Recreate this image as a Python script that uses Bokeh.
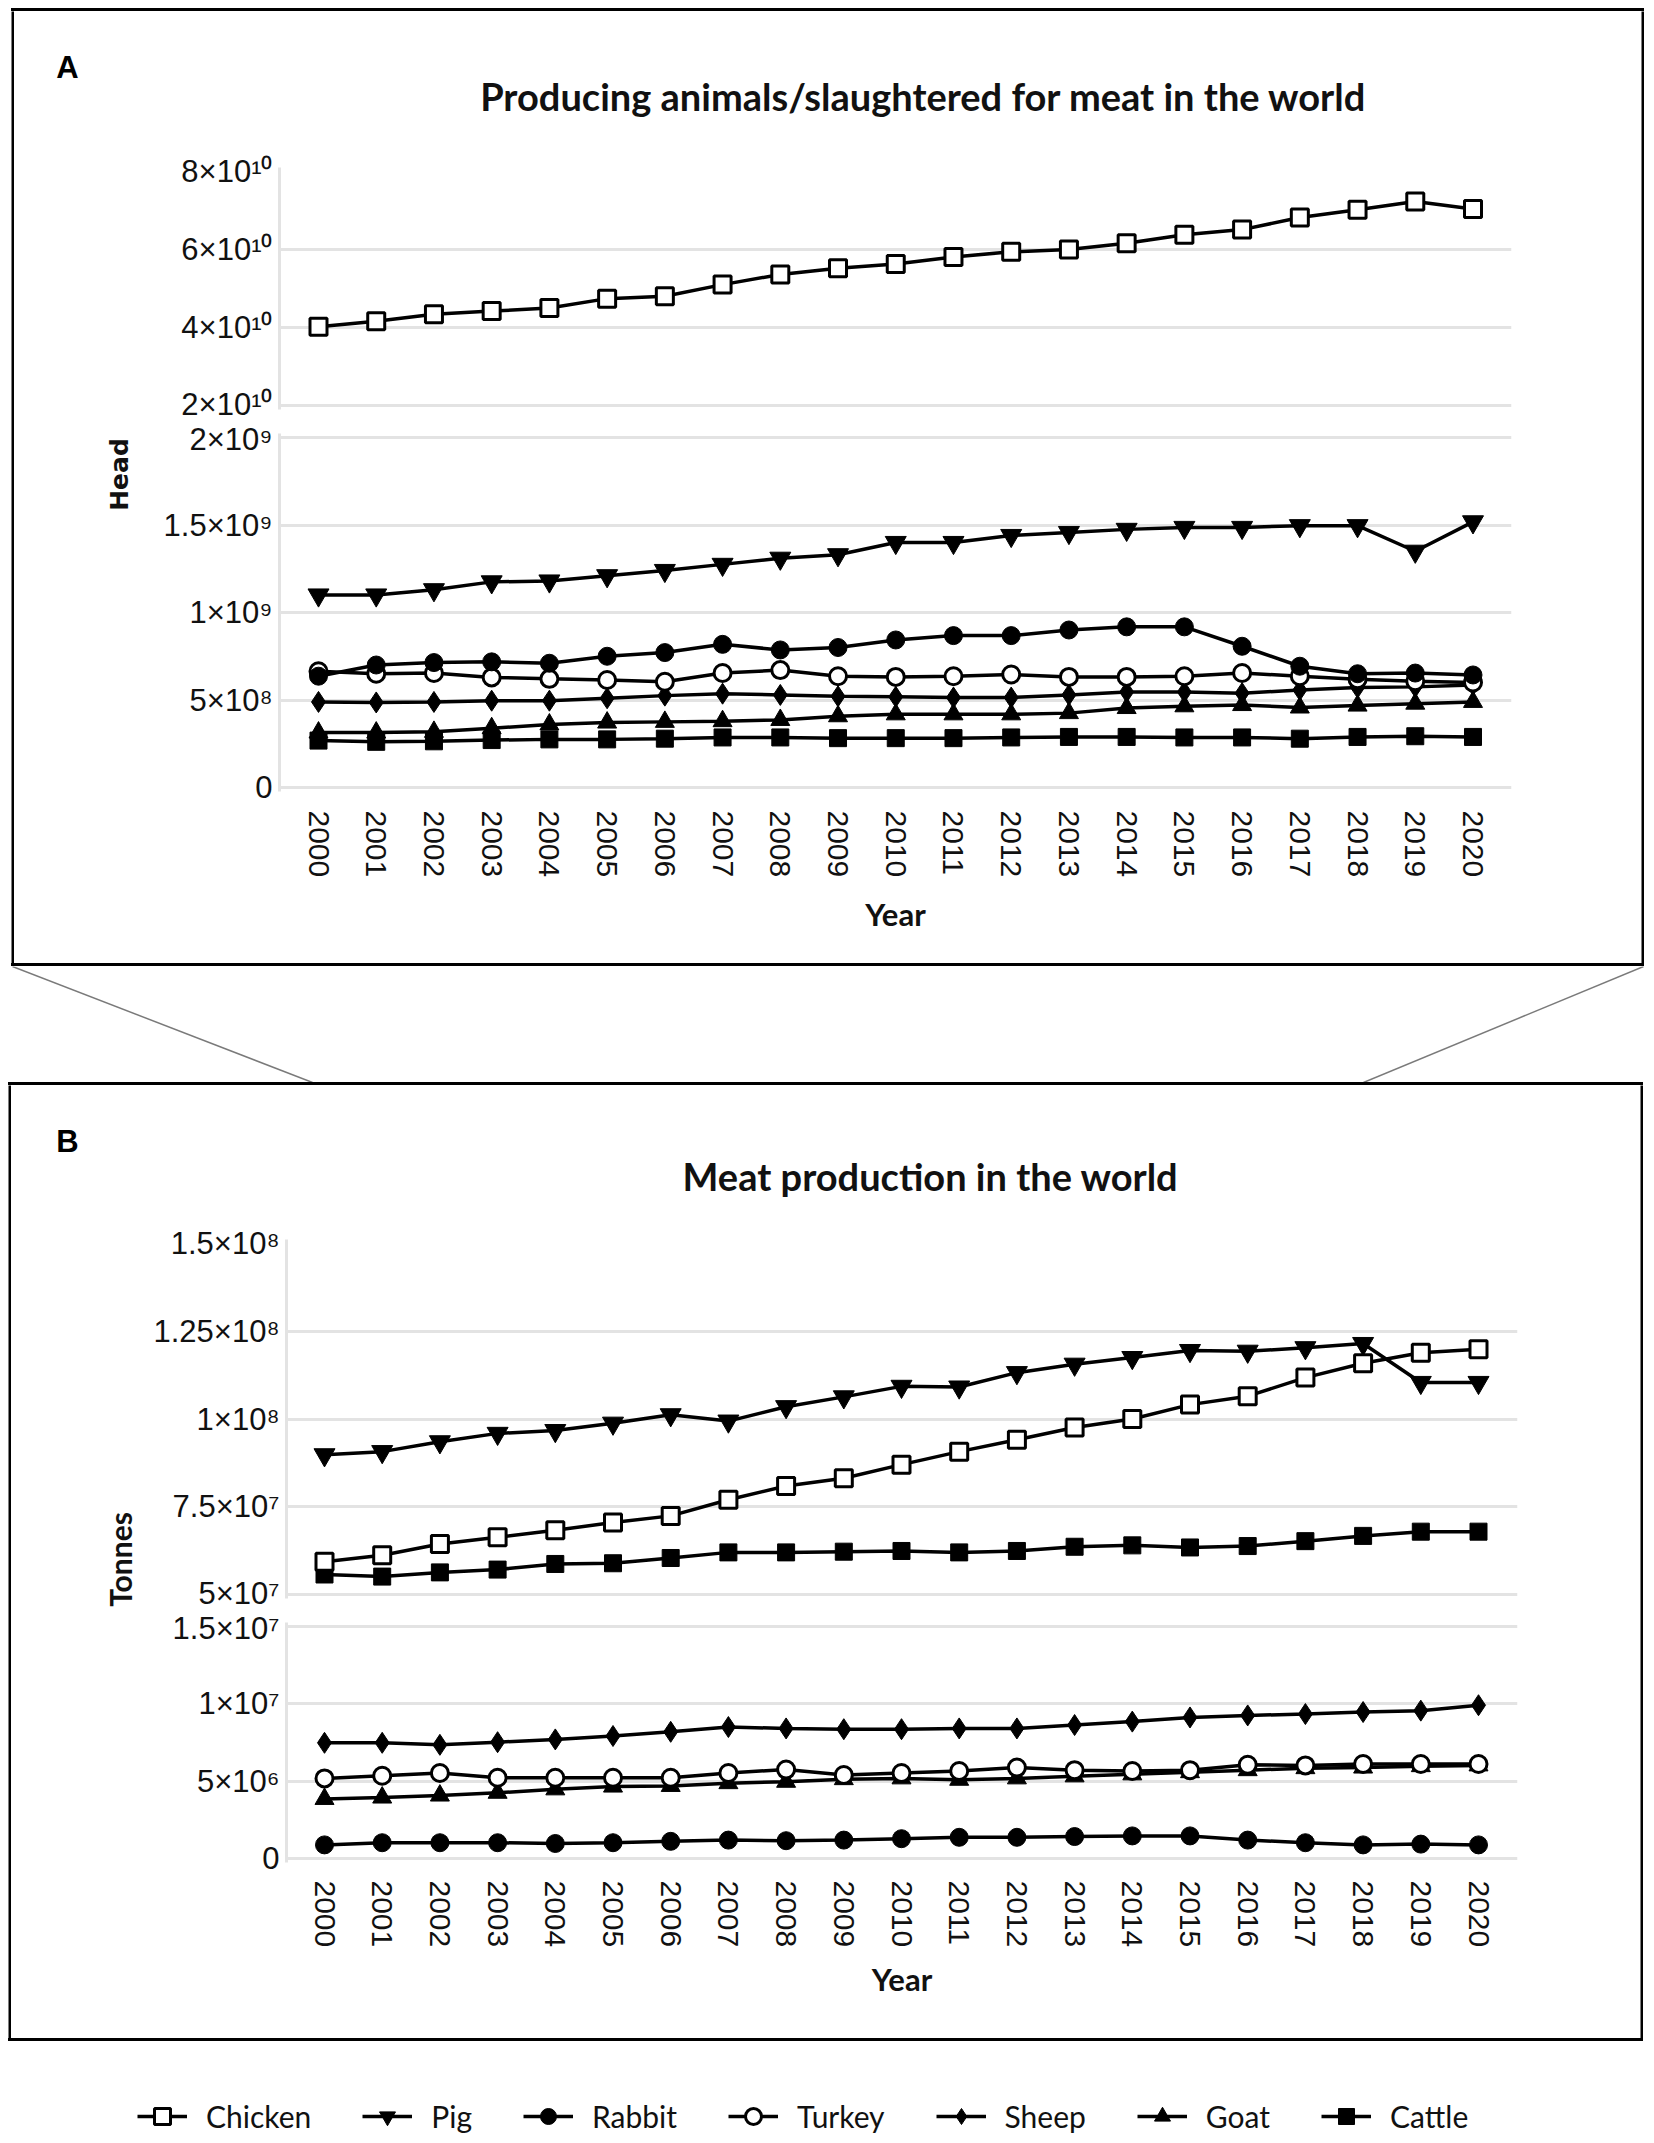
import numpy as np
from bokeh.plotting import figure
from bokeh.layouts import column, row
from bokeh.models import Range1d, FixedTicker, Spacer, Legend, LegendItem
from bokeh.core.properties import value
from bokeh.embed import file_html
from bokeh.resources import INLINE

# ---------------- data ----------------
years = list(range(2000, 2021))
series_names = ["Chicken", "Pig", "Rabbit", "Turkey", "Sheep", "Goat", "Cattle"]

# Panel A: producing animals / slaughtered (Head)
head_chicken = [4.02e10, 4.16e10, 4.34e10, 4.42e10, 4.50e10, 4.74e10, 4.80e10, 5.10e10, 5.36e10, 5.52e10, 5.63e10,
                5.81e10, 5.94e10, 6.00e10, 6.16e10, 6.38e10, 6.51e10, 6.82e10, 7.02e10, 7.23e10, 7.04e10]
head_pig = [1.10e9, 1.10e9, 1.13e9, 1.175e9, 1.18e9, 1.21e9, 1.24e9, 1.275e9, 1.31e9, 1.33e9, 1.40e9,
            1.40e9, 1.44e9, 1.457e9, 1.475e9, 1.486e9, 1.486e9, 1.496e9, 1.496e9, 1.35e9, 1.518e9]
head_rabbit = [6.36e8, 7.0e8, 7.14e8, 7.18e8, 7.1e8, 7.5e8, 7.71e8, 8.18e8, 7.86e8, 8.0e8, 8.43e8,
               8.68e8, 8.68e8, 9.0e8, 9.18e8, 9.18e8, 8.07e8, 6.93e8, 6.5e8, 6.54e8, 6.43e8]
head_turkey = [6.64e8, 6.5e8, 6.54e8, 6.29e8, 6.21e8, 6.14e8, 6.04e8, 6.54e8, 6.71e8, 6.36e8, 6.32e8,
               6.36e8, 6.46e8, 6.32e8, 6.32e8, 6.36e8, 6.54e8, 6.36e8, 6.18e8, 6.07e8, 6.0e8]
head_sheep = [4.89e8, 4.86e8, 4.89e8, 4.96e8, 4.96e8, 5.1e8, 5.25e8, 5.36e8, 5.29e8, 5.21e8, 5.18e8,
              5.14e8, 5.14e8, 5.29e8, 5.46e8, 5.46e8, 5.39e8, 5.57e8, 5.71e8, 5.75e8, 5.86e8]
head_goat = [3.14e8, 3.14e8, 3.18e8, 3.39e8, 3.6e8, 3.71e8, 3.75e8, 3.79e8, 3.86e8, 4.07e8, 4.18e8,
             4.18e8, 4.18e8, 4.25e8, 4.54e8, 4.64e8, 4.71e8, 4.57e8, 4.68e8, 4.79e8, 4.89e8]
head_cattle = [2.68e8, 2.61e8, 2.64e8, 2.71e8, 2.75e8, 2.75e8, 2.79e8, 2.86e8, 2.86e8, 2.82e8, 2.82e8,
               2.82e8, 2.86e8, 2.89e8, 2.89e8, 2.86e8, 2.86e8, 2.79e8, 2.89e8, 2.93e8, 2.89e8]

# Panel B: meat production (Tonnes)
t_chicken = [5.93e7, 6.12e7, 6.44e7, 6.63e7, 6.83e7, 7.05e7, 7.24e7, 7.70e7, 8.09e7, 8.31e7, 8.70e7,
             9.07e7, 9.41e7, 9.76e7, 10.0e7, 10.41e7, 10.65e7, 11.18e7, 11.59e7, 11.89e7, 11.99e7]
t_pig = [8.98e7, 9.07e7, 9.35e7, 9.59e7, 9.67e7, 9.88e7, 10.12e7, 9.94e7, 10.35e7, 10.63e7, 10.93e7,
         10.91e7, 11.32e7, 11.56e7, 11.75e7, 11.95e7, 11.93e7, 12.03e7, 12.15e7, 11.04e7, 11.04e7]
t_rabbit = [0.88e6, 1.02e6, 1.02e6, 1.02e6, 0.97e6, 1.02e6, 1.11e6, 1.19e6, 1.15e6, 1.19e6, 1.28e6,
            1.37e6, 1.37e6, 1.42e6, 1.46e6, 1.46e6, 1.19e6, 1.02e6, 0.88e6, 0.93e6, 0.88e6]
t_turkey = [5.18e6, 5.35e6, 5.53e6, 5.22e6, 5.22e6, 5.22e6, 5.22e6, 5.53e6, 5.75e6, 5.40e6, 5.53e6,
            5.66e6, 5.88e6, 5.71e6, 5.66e6, 5.71e6, 6.06e6, 6.02e6, 6.11e6, 6.11e6, 6.11e6]
t_sheep = [7.48e6, 7.48e6, 7.35e6, 7.52e6, 7.70e6, 7.92e6, 8.19e6, 8.50e6, 8.41e6, 8.36e6, 8.36e6,
           8.41e6, 8.41e6, 8.63e6, 8.85e6, 9.12e6, 9.25e6, 9.34e6, 9.47e6, 9.56e6, 9.91e6]
t_goat = [3.85e6, 3.94e6, 4.07e6, 4.25e6, 4.47e6, 4.65e6, 4.69e6, 4.87e6, 4.96e6, 5.13e6, 5.18e6,
          5.09e6, 5.18e6, 5.31e6, 5.44e6, 5.58e6, 5.71e6, 5.84e6, 5.88e6, 5.97e6, 6.02e6]
t_cattle = [5.57e7, 5.51e7, 5.63e7, 5.71e7, 5.87e7, 5.89e7, 6.04e7, 6.20e7, 6.20e7, 6.22e7, 6.24e7,
            6.20e7, 6.24e7, 6.36e7, 6.40e7, 6.34e7, 6.38e7, 6.52e7, 6.67e7, 6.79e7, 6.79e7]

# Axis ticks (broken axes) and tick labels
a_up_ticks = [2e10, 4e10, 6e10, 8e10]
a_up_labels = ["2×10¹⁰", "4×10¹⁰", "6×10¹⁰", "8×10¹⁰"]
a_low_ticks = [0, 5e8, 1e9, 1.5e9, 2e9]
a_low_labels = ["0", "5×10⁸", "1×10⁹", "1.5×10⁹", "2×10⁹"]
b_up_ticks = [5e7, 7.5e7, 1e8, 1.25e8, 1.5e8]
b_up_labels = ["5×10⁷", "7.5×10⁷", "1×10⁸", "1.25×10⁸", "1.5×10⁸"]
b_low_ticks = [0, 5e6, 1e7, 1.5e7]
b_low_labels = ["0", "5×10⁶", "1×10⁷", "1.5×10⁷"]

# ---------------- styles ----------------
STYLE = {
    "Chicken": dict(marker="square", size=17, fill_color="white", line_width=3),
    "Pig": dict(marker="inverted_triangle", size=21, fill_color="black", line_width=1),
    "Rabbit": dict(marker="circle", size=18, fill_color="black", line_width=1),
    "Turkey": dict(marker="circle", size=17, fill_color="white", line_width=3),
    "Sheep": dict(marker="diamond", size=21, fill_color="black", line_width=1),
    "Goat": dict(marker="triangle", size=19, fill_color="black", line_width=1),
    "Cattle": dict(marker="square", size=17, fill_color="black", line_width=1),
}
LINE_W = 3.5
GRID_COL = "#e3e3e3"
TXT = "#111111"
TICK_FONT = "Liberation Sans"
BORDER = 3


def svgfig(**kw):
    base = dict(toolbar_location=None, output_backend="svg", outline_line_color=None)
    base.update(kw)
    return figure(**base)


def vbar(w, h):
    p = svgfig(width=w, height=h, min_border=0, x_axis_location=None, y_axis_location=None,
               background_fill_color="black", border_fill_color="black",
               x_range=Range1d(0, 1), y_range=Range1d(0, 1))
    p.grid.visible = False
    return p


def hbar(w, h):
    return Spacer(width=w, height=h, styles={"background-color": "black"})


def canvas(x0, x1, y0, y1, fx0=None, fx1=None):
    # a figure spanning page pixels x0..x1, y0..y1 (y downward); frame optionally inset to fx0..fx1
    fx0 = x0 if fx0 is None else fx0
    fx1 = x1 if fx1 is None else fx1
    p = svgfig(width=int(x1 - x0), height=int(y1 - y0), min_border_top=0, min_border_bottom=0,
               min_border_left=int(fx0 - x0), min_border_right=int(x1 - fx1),
               x_axis_location=None, y_axis_location=None,
               x_range=Range1d(fx0, fx1), y_range=Range1d(y1, y0))
    p.grid.visible = False
    return p


def seg(x0, x1, y0, y1, axis_x, right_x, x2000, x2020, px_lo, v_lo, px_hi, v_hi,
        ticks, labels, grid_ticks, data, xaxis=None, pad=4):
    ftop, fbot = px_hi - pad, px_lo + pad
    per_y = (v_hi - v_lo) / (px_lo - px_hi)
    yr = Range1d(v_lo - (fbot - px_lo) * per_y, v_hi + (px_hi - ftop) * per_y)
    per_x = (years[-1] - years[0]) / (x2020 - x2000)
    xr = Range1d(years[0] - (x2000 - axis_x) * per_x, years[-1] + (right_x - x2020) * per_x)
    p = svgfig(width=int(x1 - x0), height=int(y1 - y0), x_range=xr, y_range=yr,
               x_axis_location="below" if xaxis else None, y_axis_location="left",
               min_border_left=int(axis_x - x0), min_border_right=int(x1 - right_x),
               min_border_top=int(ftop - y0), min_border_bottom=int(y1 - fbot),
               background_fill_color="white", border_fill_color="white")
    p.xgrid.visible = False
    p.ygrid.ticker = FixedTicker(ticks=[float(t) for t in grid_ticks])
    p.ygrid.grid_line_color = GRID_COL
    p.ygrid.grid_line_width = 3
    ax = p.yaxis[0]
    ax.ticker = FixedTicker(ticks=[float(t) for t in ticks])
    ax.major_label_overrides = {float(t): l for t, l in zip(ticks, labels)}
    ax.axis_line_color = GRID_COL
    ax.axis_line_width = 3
    ax.major_tick_out = 0
    ax.major_tick_in = 0
    ax.minor_tick_out = 0
    ax.minor_tick_in = 0
    ax.major_label_standoff = 7
    ax.major_label_text_font = TICK_FONT
    ax.major_label_text_font_size = "31px"
    ax.major_label_text_color = TXT
    if xaxis:
        xa = p.xaxis[0]
        xa.ticker = FixedTicker(ticks=years)
        xa.major_label_orientation = "vertical"
        xa.axis_line_color = None
        xa.major_tick_out = 0
        xa.major_tick_in = 0
        xa.minor_tick_out = 0
        xa.minor_tick_in = 0
        xa.major_label_standoff = xaxis["standoff"]
        xa.major_label_text_font = TICK_FONT
        xa.major_label_text_font_size = "30px"
        xa.major_label_text_color = TXT
        xa.axis_label = "Year"
        xa.axis_label_text_font = "Lato"
        xa.axis_label_text_font_style = "bold"
        xa.axis_label_text_font_size = "31px"
        xa.axis_label_text_color = TXT
        xa.axis_label_standoff = xaxis["label_standoff"]
    for name, vals in data:
        st = STYLE[name]
        p.line(years, vals, line_color="black", line_width=LINE_W)
        p.scatter(years, vals, marker=st["marker"], size=st["size"], fill_color=st["fill_color"],
                  line_color="black", line_width=st["line_width"])
    return p


def panel(box, xs, axis_x, right_x, x2000, x2020, y_head, y_mid, up, low, letter, letter_xy,
          ylabel, ylabel_xy, ylabel_font, title, title_xy, xaxis):
    X0, Y0, X1, Y1 = box
    ix0, ix1, iy0, iy1 = X0 + BORDER, X1 - BORDER, Y0 + BORDER, Y1 - BORDER
    side = canvas(ix0, xs, iy0, iy1)
    side.text(x=[letter_xy[0]], y=[letter_xy[1]], text=[letter], text_font=value("Liberation Sans"),
              text_font_style="bold", text_font_size="31px", text_align="center",
              text_baseline="middle", text_color="black")
    side.text(x=[ylabel_xy[0]], y=[ylabel_xy[1]], text=[ylabel], angle=np.pi / 2,
              text_font=value(ylabel_font[0]), text_font_style="bold", text_font_size=ylabel_font[1],
              text_align="center", text_baseline="middle", text_color=TXT)
    head = canvas(xs, ix1, iy0, y_head, axis_x, right_x)
    head.text(x=[title_xy[0]], y=[title_xy[1]], text=[title], text_font=value("Lato"),
              text_font_style="bold", text_font_size="38px", text_align="center",
              text_baseline="middle", text_color=TXT)
    pu = seg(xs, ix1, y_head, y_mid, axis_x, right_x, x2000, x2020, *up)
    pl = seg(xs, ix1, y_mid, iy1, axis_x, right_x, x2000, x2020, *low, xaxis=xaxis)
    mid = row(vbar(BORDER, iy1 - iy0), side, column(head, pu, pl), vbar(BORDER, iy1 - iy0))
    return column(hbar(X1 - X0, BORDER), mid, hbar(X1 - X0, BORDER))


XS = 145
pA = panel(
    box=(11, 8, 1644, 966), xs=XS, axis_x=279, right_x=1511, x2000=318, x2020=1472.5,
    y_head=150, y_mid=421,
    up=(405, 2e10, 171, 8e10, a_up_ticks, a_up_labels, a_up_ticks[:-1],
        [("Chicken", head_chicken)]),
    low=(787, 0.0, 437, 2e9, a_low_ticks, a_low_labels, a_low_ticks,
         [("Cattle", head_cattle), ("Goat", head_goat), ("Sheep", head_sheep),
          ("Turkey", head_turkey), ("Rabbit", head_rabbit), ("Pig", head_pig)]),
    letter="A", letter_xy=(67, 67), ylabel="Head", ylabel_xy=(119, 474),
    ylabel_font=("DejaVu Sans", "25px"),
    title="Producing animals/slaughtered for meat in the world", title_xy=(923, 95),
    xaxis=dict(standoff=19, label_standoff=15),
)

pB = panel(
    box=(8, 1082, 1643, 2041), xs=XS, axis_x=286, right_x=1517, x2000=324, x2020=1478,
    y_head=1220, y_mid=1610,
    up=(1594, 5e7, 1243, 1.5e8, b_up_ticks, b_up_labels, b_up_ticks[:-1],
        [("Cattle", t_cattle), ("Chicken", t_chicken), ("Pig", t_pig)]),
    low=(1858, 0.0, 1626, 1.5e7, b_low_ticks, b_low_labels, b_low_ticks,
         [("Rabbit", t_rabbit), ("Goat", t_goat), ("Turkey", t_turkey), ("Sheep", t_sheep)]),
    letter="B", letter_xy=(67, 1141), ylabel="Tonnes", ylabel_xy=(119, 1559),
    ylabel_font=("Lato", "30px"),
    title="Meat production in the world", title_xy=(930, 1175),
    xaxis=dict(standoff=18, label_standoff=10),
)

# connector lines between the panels
gap = canvas(0, 1650, 966, 1082)
gap.segment(x0=[12, 1643], y0=[966, 966], x1=[312, 1363], y1=[1082, 1082],
            line_color="#7a7a7a", line_width=1.5)

# legend strip (series drawn outside the visible range; only their legend glyphs show)
leg = svgfig(width=1650, height=99, min_border=0, x_axis_location=None, y_axis_location=None,
             x_range=Range1d(0, 1), y_range=Range1d(0, 1))
leg.grid.visible = False
legend_data = {"Chicken": head_chicken, "Pig": head_pig, "Rabbit": head_rabbit, "Turkey": head_turkey,
               "Sheep": head_sheep, "Goat": head_goat, "Cattle": head_cattle}
items = []
for name in series_names:
    st = STYLE[name]
    lr = leg.line(years, legend_data[name], line_color="black", line_width=LINE_W)
    sr = leg.scatter(years, legend_data[name], marker=st["marker"], size=st["size"],
                     fill_color=st["fill_color"], line_color="black", line_width=st["line_width"])
    items.append(LegendItem(label=name, renderers=[lr, sr]))
legend = Legend(items=items, orientation="horizontal", location=(137, 4), glyph_width=50,
                glyph_height=40, label_standoff=19, spacing=51, padding=0, margin=0,
                border_line_color=None, background_fill_alpha=0, label_text_font="Lato",
                label_text_font_size="30px", label_text_color=TXT)
leg.add_layout(legend)

root = column(
    Spacer(width=10, height=8),
    row(Spacer(width=11, height=10), pA),
    gap,
    row(Spacer(width=8, height=10), pB),
    leg,
)

open("out.html", "w").write(file_html(root, INLINE))
